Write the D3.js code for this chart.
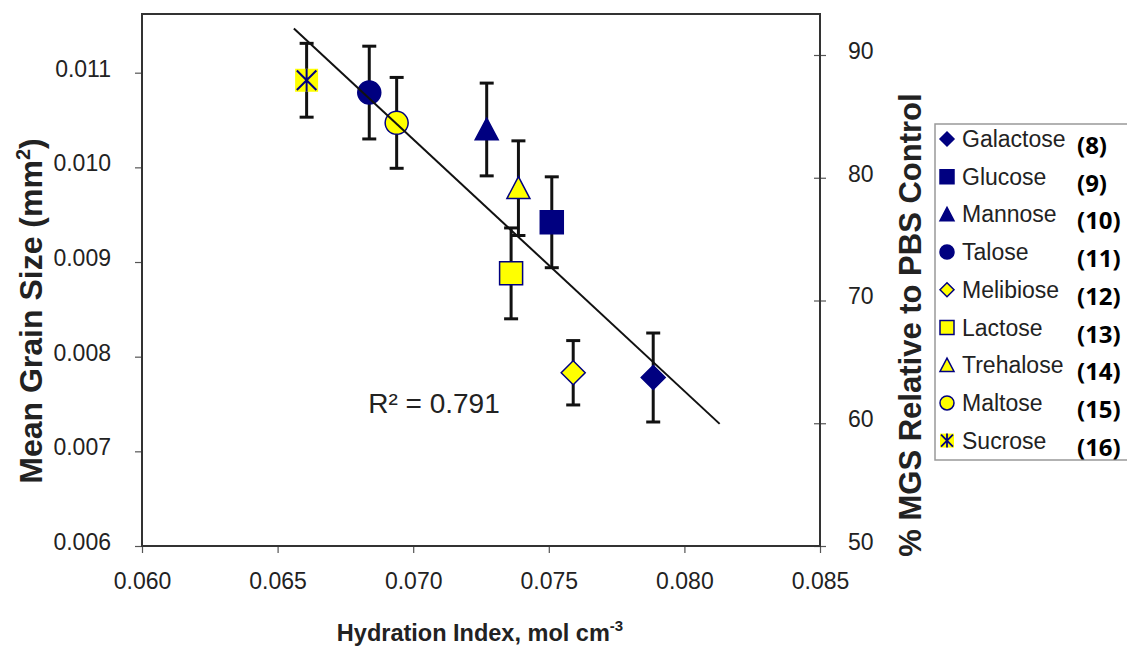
<!DOCTYPE html>
<html>
<head>
<meta charset="utf-8">
<script src="https://cdn.jsdelivr.net/npm/d3@7"></script>
<style>
  body { margin: 0; background: #fff; }
  text { font-family: "Liberation Sans", Arial, sans-serif; }
</style>
</head>
<body>
<div id="chart"></div>
<script>
// ---- data ----
var sugars = ["Galactose", "Glucose", "Mannose", "Talose", "Melibiose", "Lactose", "Trehalose", "Maltose", "Sucrose"];
var compoundNo = ["(8)", "(9)", "(10)", "(11)", "(12)", "(13)", "(14)", "(15)", "(16)"];
var hydration = [0.07885, 0.07511, 0.07271, 0.06838, 0.07590, 0.07361, 0.07388, 0.06939, 0.06607];
var grainSize = [0.00778, 0.00942, 0.01040, 0.01079, 0.00783, 0.00888, 0.00978, 0.01047, 0.01092];
var grainErr = [0.00047, 0.00048, 0.00049, 0.00049, 0.00034, 0.00048, 0.00050, 0.00048, 0.00039];
var shapes = ["diamond", "square", "triangle", "circle", "diamond", "square", "triangle", "circle", "star"];
var fills = ["navy", "navy", "navy", "navy", "yellow", "yellow", "yellow", "yellow", "yellow"];

var xTicks = [0.060, 0.065, 0.070, 0.075, 0.080, 0.085];
var yTicks = [0.006, 0.007, 0.008, 0.009, 0.010, 0.011];
var pctTicks = [50, 60, 70, 80, 90];

// linear fit shown on the chart
var trendX = [0.0656, 0.0813];
var trendSlope = -0.2661;
var trendIntercept = 0.028924;
var rSquared = "0.791";

// ---- layout ----
var width = 1127, height = 652;
var plot = {left: 142, right: 820, top: 14, bottom: 546};
var navy = "#000080", yellow = "#ffff00", ink = "#222";

var svg = d3.select("#chart").append("svg")
    .attr("width", width)
    .attr("height", height);

var x = d3.scaleLinear().domain([0.060, 0.085]).range([plot.left, plot.right]);
var y = d3.scaleLinear().domain([0.006, 0.01162]).range([plot.bottom, plot.top]);
var yPct = d3.scaleLinear().domain([50, 93.34]).range([plot.bottom, plot.top]);

function markerPath(shape, r) {
    switch (shape) {
        case "diamond":
            return "M0," + (-r) + "L" + r + ",0L0," + r + "L" + (-r) + ",0Z";
        case "square":
            return "M" + (-r) + "," + (-r) + "H" + r + "V" + r + "H" + (-r) + "Z";
        case "triangle":
            return "M0," + (-r) + "L" + r + "," + (r * 0.9) + "H" + (-r) + "Z";
        case "circle":
            return d3.symbol(d3.symbolCircle, Math.PI * r * r)();
        default:
            return "";
    }
}

function drawMarker(g, shape, fill, r) {
    var color = fill === "navy" ? navy : yellow;
    if (shape === "star") {
        g.append("rect")
            .attr("x", -r).attr("y", -r)
            .attr("width", 2 * r).attr("height", 2 * r)
            .attr("fill", yellow);
        var k = r * 0.85;
        g.append("path")
            .attr("d", "M" + (-k) + "," + (-k) + "L" + k + "," + k + "M" + k + "," + (-k) + "L" + (-k) + "," + k + "M0," + (-r) + "V" + r)
            .attr("stroke", navy)
            .attr("stroke-width", r > 8 ? 2 : 1.8)
            .attr("fill", "none");
        return;
    }
    g.append("path")
        .attr("d", markerPath(shape, r))
        .attr("fill", color)
        .attr("stroke", navy)
        .attr("stroke-width", 1.5);
}

// ---- axes ----
var xAxis = svg.append("g")
    .attr("transform", "translate(0," + plot.bottom + ")")
    .call(d3.axisBottom(x).tickValues(xTicks).tickFormat(d3.format(".3f")).tickSize(7).tickPadding(20));

var yAxis = svg.append("g")
    .attr("transform", "translate(" + plot.left + ",0)")
    .call(d3.axisLeft(y).tickValues(yTicks).tickFormat(d3.format(".3f")).tickSize(7).tickPadding(24));

var pctAxis = svg.append("g")
    .attr("transform", "translate(" + plot.right + ",0)")
    .call(d3.axisRight(yPct).tickValues(pctTicks).tickFormat(d3.format("d")).tickSize(6).tickPadding(22));

pctAxis.selectAll(".tick line").attr("x1", -6);

[xAxis, yAxis, pctAxis].forEach(function (a) {
    a.select(".domain").remove();
    a.selectAll(".tick line").attr("stroke", "#555").attr("stroke-width", 1.2);
    a.selectAll(".tick text")
        .attr("fill", ink)
        .style("font-size", "23px")
        .style("font-family", "Liberation Sans, Arial, sans-serif");
});
yAxis.selectAll(".tick text").attr("dy", "0.15em");
pctAxis.selectAll(".tick text").attr("dy", "0.15em");

// plot area frame
svg.append("rect")
    .attr("x", plot.left).attr("y", plot.top)
    .attr("width", plot.right - plot.left)
    .attr("height", plot.bottom - plot.top)
    .attr("fill", "none")
    .attr("stroke", "#333")
    .attr("stroke-width", 2);

// axis titles
var yt = svg.append("text")
    .attr("transform", "translate(42,311) rotate(-90)")
    .attr("text-anchor", "middle")
    .style("font-size", "32px").style("font-weight", "bold")
    .attr("fill", ink);
yt.append("tspan").text("Mean Grain Size (mm");
yt.append("tspan").attr("dy", -12).style("font-size", "20px").text("2");
yt.append("tspan").attr("dy", 12).text(")");

svg.append("text")
    .attr("transform", "translate(921,325) rotate(-90)")
    .attr("text-anchor", "middle")
    .style("font-size", "31px").style("font-weight", "bold")
    .attr("fill", ink)
    .text("% MGS Relative to PBS Control");

var xt = svg.append("text")
    .attr("x", 480).attr("y", 641)
    .attr("text-anchor", "middle")
    .style("font-size", "23.5px").style("font-weight", "bold")
    .attr("fill", ink);
xt.append("tspan").text("Hydration Index, mol cm");
xt.append("tspan").attr("dy", -10).style("font-size", "15px").text("-3");

// ---- error bars ----
var idx = d3.range(sugars.length);
var cap = 7;

var bars = svg.append("g").attr("class", "errorbars")
    .selectAll("g").data(idx).enter().append("g");

bars.append("line")
    .attr("x1", function (i) { return x(hydration[i]); })
    .attr("x2", function (i) { return x(hydration[i]); })
    .attr("y1", function (i) { return y(grainSize[i] + grainErr[i]); })
    .attr("y2", function (i) { return y(grainSize[i] - grainErr[i]); });

bars.append("line")
    .attr("x1", function (i) { return x(hydration[i]) - cap; })
    .attr("x2", function (i) { return x(hydration[i]) + cap; })
    .attr("y1", function (i) { return y(grainSize[i] + grainErr[i]); })
    .attr("y2", function (i) { return y(grainSize[i] + grainErr[i]); });

bars.append("line")
    .attr("x1", function (i) { return x(hydration[i]) - cap; })
    .attr("x2", function (i) { return x(hydration[i]) + cap; })
    .attr("y1", function (i) { return y(grainSize[i] - grainErr[i]); })
    .attr("y2", function (i) { return y(grainSize[i] - grainErr[i]); });

bars.selectAll("line").attr("stroke", "#111").attr("stroke-width", 3);

// ---- markers ----
svg.append("g").attr("class", "points")
    .selectAll("g").data(idx).enter().append("g")
    .attr("transform", function (i) {
        return "translate(" + x(hydration[i]) + "," + y(grainSize[i]) + ")";
    })
    .each(function (i) {
        var r = shapes[i] === "diamond" ? 12 : 11.5;
        drawMarker(d3.select(this), shapes[i], fills[i], r);
    });

// ---- trend line ----
svg.append("line")
    .attr("x1", x(trendX[0]))
    .attr("y1", y(trendIntercept + trendSlope * trendX[0]))
    .attr("x2", x(trendX[1]))
    .attr("y2", y(trendIntercept + trendSlope * trendX[1]))
    .attr("stroke", "#111")
    .attr("stroke-width", 2);

svg.append("text")
    .attr("x", 434).attr("y", 413)
    .attr("text-anchor", "middle")
    .style("font-size", "28px")
    .attr("fill", ink)
    .text("R\u00b2 = " + rSquared);

// ---- legend ----
var legend = svg.append("g").attr("class", "legend");

legend.append("rect")
    .attr("x", 935).attr("y", 124)
    .attr("width", 200).attr("height", 336)
    .attr("fill", "#fff")
    .attr("stroke", "#999")
    .attr("stroke-width", 1.5);

var items = legend.selectAll("g.item").data(idx).enter().append("g")
    .attr("class", "item")
    .attr("transform", function (i) { return "translate(947," + (139 + i * 37.7) + ")"; });

items.each(function (i) {
    drawMarker(d3.select(this), shapes[i], fills[i], 7);
});

items.append("text")
    .attr("x", 15).attr("y", 8)
    .style("font-size", "23px")
    .attr("fill", ink)
    .text(function (i) { return sugars[i]; });

items.append("text")
    .attr("x", 130).attr("y", 15)
    .style("font-family", "Open Sans, sans-serif")
    .style("font-size", "24px")
    .style("font-weight", "bold")
    .attr("fill", "#000")
    .text(function (i) { return compoundNo[i]; });
</script>
</body>
</html>
